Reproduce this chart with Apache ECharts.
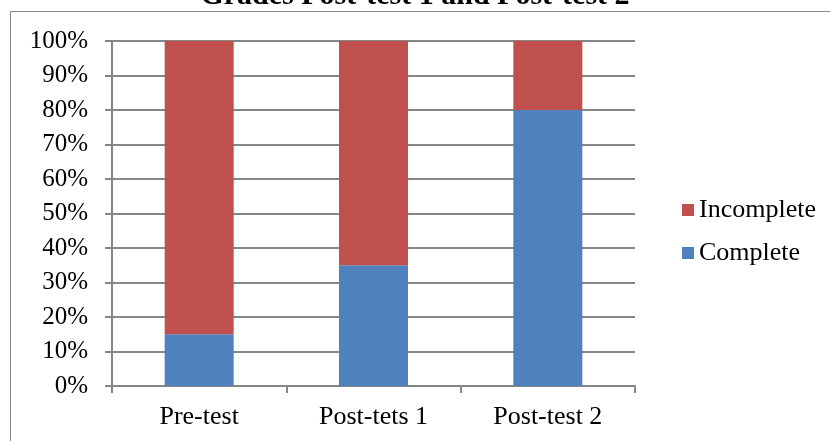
<!DOCTYPE html>
<html>
<head>
<meta charset="utf-8">
<script src="https://cdn.jsdelivr.net/npm/echarts@6/dist/echarts.min.js"></script>
<style>
html,body{margin:0;padding:0;background:#fff;}
#c{width:830px;height:441px;}
</style>
</head>
<body>
<div id="c"></div>
<script>
var categories = ['Pre-test', 'Post-tets 1', 'Post-test 2'];
var complete = [15, 35, 80];
var incomplete = [85, 65, 20];
var yTicks = ['0%','10%','20%','30%','40%','50%','60%','70%','80%','90%','100%'];
var titleText = 'Grades Post-test 1 and Post-test 2';

var FONT = '"Liberation Serif", "Times New Roman", serif';
var chart = echarts.init(document.getElementById('c'), null, {renderer: 'canvas'});
chart.setOption({
  animation: false,
  backgroundColor: '#fff',
  graphic: [
    {type: 'line', shape: {x1: 10.5, y1: 11.5, x2: 10.5, y2: 441}, style: {stroke: '#868686', lineWidth: 1}},
    {type: 'line', shape: {x1: 10.5, y1: 11.5, x2: 830, y2: 11.5}, style: {stroke: '#868686', lineWidth: 1}},
    {type: 'text', left: 'center', top: -19, style: {text: titleText, font: 'bold 30px ' + FONT, fill: '#000'}}
  ],
  legend: {
    orient: 'vertical',
    left: 677,
    top: 192,
    itemWidth: 12,
    itemHeight: 12,
    itemGap: 17,
    itemTextGap: 3,
    icon: 'rect',
    data: ['Incomplete', 'Complete'],
    textStyle: {fontFamily: FONT, fontSize: 26, color: '#000'}
  },
  grid: {left: 112, right: 195, top: 41, bottom: 55, containLabel: false},
  xAxis: {
    type: 'category',
    data: categories,
    axisLine: {lineStyle: {color: '#868686', width: 2}},
    axisTick: {show: true, length: 7, lineStyle: {color: '#868686', width: 2}},
    axisLabel: {fontFamily: FONT, fontSize: 26, color: '#000', margin: 18}
  },
  yAxis: {
    type: 'value',
    min: 0,
    max: 100,
    interval: 10,
    axisLine: {show: true, lineStyle: {color: '#868686', width: 2}},
    axisTick: {show: true, length: 7, lineStyle: {color: '#868686', width: 2}},
    splitLine: {show: true, lineStyle: {color: '#868686', width: 2}},
    axisLabel: {
      fontFamily: FONT, fontSize: 25, color: '#000', margin: 24,
      formatter: function (v) { return yTicks[Math.round(v / 10)]; }
    }
  },
  series: [
    {name: 'Complete', type: 'bar', stack: 'a', data: complete, barWidth: 69, itemStyle: {color: '#4F81BD'}},
    {name: 'Incomplete', type: 'bar', stack: 'a', data: incomplete, barWidth: 69, itemStyle: {color: '#C0504D'}}
  ]
});
</script>
</body>
</html>
